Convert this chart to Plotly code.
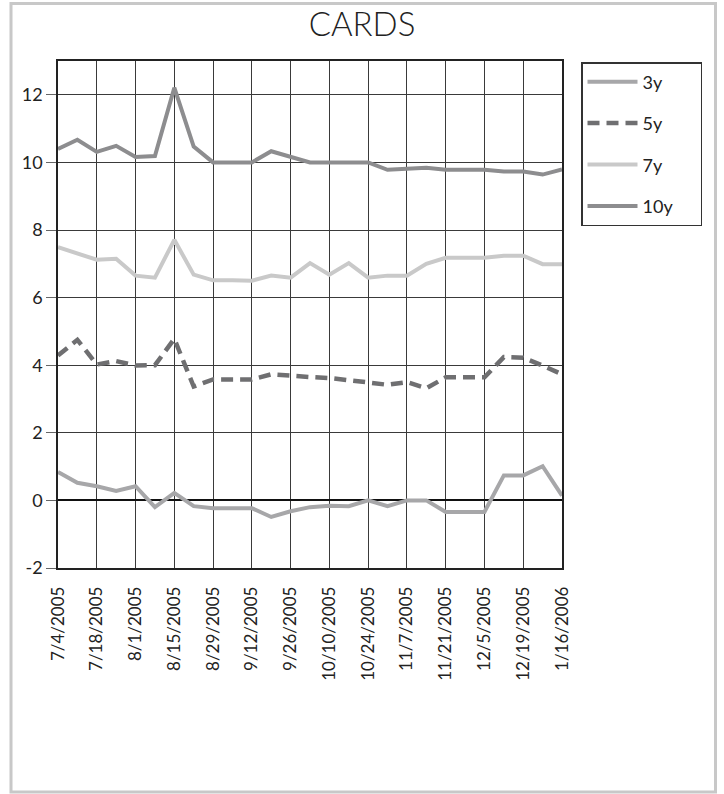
import plotly.graph_objects as go

dates = ["7/4/2005", "7/11/2005", "7/18/2005", "7/25/2005", "8/1/2005", "8/8/2005",
         "8/15/2005", "8/22/2005", "8/29/2005", "9/5/2005", "9/12/2005", "9/19/2005",
         "9/26/2005", "10/3/2005", "10/10/2005", "10/17/2005", "10/24/2005", "10/31/2005",
         "11/7/2005", "11/14/2005", "11/21/2005", "11/28/2005", "12/5/2005", "12/12/2005",
         "12/19/2005", "1/2/2006", "1/16/2006"]

y3 = [0.84, 0.52, 0.42, 0.28, 0.42, -0.20, 0.22, -0.17, -0.23, -0.23, -0.23, -0.49,
      -0.32, -0.20, -0.16, -0.17, 0.0, -0.17, 0.0, 0.0, -0.34, -0.34, -0.34, 0.74,
      0.74, 1.01, 0.14]
y5 = [4.29, 4.75, 4.02, 4.12, 3.99, 4.00, 4.78, 3.37, 3.58, 3.58, 3.58, 3.73,
      3.68, 3.65, 3.62, 3.57, 3.49, 3.42, 3.50, 3.32, 3.64, 3.64, 3.64, 4.24,
      4.22, 3.99, 3.73]
y7 = [7.49, 7.32, 7.12, 7.15, 6.65, 6.59, 7.71, 6.68, 6.51, 6.51, 6.50, 6.65,
      6.59, 7.02, 6.68, 7.02, 6.59, 6.65, 6.65, 7.00, 7.18, 7.18, 7.18, 7.24,
      7.24, 6.99, 6.99]
y10 = [10.40, 10.67, 10.31, 10.49, 10.16, 10.19, 12.21, 10.47, 10.0, 10.0, 10.0, 10.33,
       10.15, 10.0, 10.0, 10.0, 10.0, 9.78, 9.81, 9.84, 9.78, 9.78, 9.78, 9.73,
       9.73, 9.64, 9.79]

tick_labels = dates[0:25:2] + [dates[-1]]
y_ticks = [-2, 0, 2, 4, 6, 8, 10, 12]
y_tick_text = ["-2", "0", "2", "4", "6", "8", "10", "12"]

series = [
    ("3y", y3, "#a7a7a9", None),
    ("5y", y5, "#6f6f71", "12px,7px"),
    ("7y", y7, "#c9c9c9", None),
    ("10y", y10, "#8d8d8f", None),
]

FONT = "Lato, 'Open Sans', sans-serif"
PAD = "\u00a0" * 5

fig = go.Figure()
for i, (name, ys, color, dash) in enumerate(series):
    fig.add_trace(go.Scatter(
        x=dates, y=ys, name=name + PAD, mode="lines",
        line=dict(color=color, width=4.5 if dash else 4, dash=dash),
        legendgroup=f"g{i}",
    ))

W, H = 724, 794
L, R, T, B = 58, 162, 61, 226
pw, ph = W - L - R, H - T - B


def px2paper_x(px):
    return (px - L) / pw


def px2paper_y(py):
    return (H - B - py) / ph


fig.add_shape(type="rect", xref="paper", yref="paper",
              x0=px2paper_x(11), x1=px2paper_x(715.5),
              y0=px2paper_y(792), y1=px2paper_y(3.5),
              line=dict(color="#c8c8c8", width=3), layer="below")

fig.update_layout(
    width=W, height=H,
    margin=dict(l=L, r=R, t=T, b=B, autoexpand=False),
    paper_bgcolor="white", plot_bgcolor="white",
    font=dict(family=FONT, size=17, color="#222222"),
    title=dict(text="CARDS", x=0.5, xref="container", xanchor="center",
               y=1 - 24 / H, yref="container", yanchor="middle",
               font=dict(family=FONT, size=33, color="#222222", weight=300)),
    showlegend=True,
    legend=dict(x=px2paper_x(581), y=px2paper_y(62), xanchor="left", yanchor="top",
                bordercolor="#333333", borderwidth=1.5, bgcolor="white",
                font=dict(family=FONT, size=18, color="#222222"),
                tracegroupgap=15, itemwidth=50),
)

fig.update_xaxes(
    type="category", range=[0, len(dates) - 1],
    tickvals=tick_labels, ticktext=tick_labels, tickangle=-90,
    showgrid=True, gridcolor="#3a3a3a", gridwidth=1,
    showline=True, linecolor="#222222", linewidth=1.5, mirror=True,
    ticks="", ticklabelstandoff=10,
    tickfont=dict(family=FONT, size=17, color="#222222"),
)
fig.update_yaxes(
    range=[-2, 13], tickvals=y_ticks, ticktext=y_tick_text,
    showgrid=True, gridcolor="#3a3a3a", gridwidth=1,
    zeroline=True, zerolinecolor="#111111", zerolinewidth=1.5,
    showline=True, linecolor="#222222", linewidth=1.5, mirror=True,
    ticks="outside", ticklen=10, tickcolor="#666666", tickwidth=1,
    tickfont=dict(family=FONT, size=18, color="#222222"),
)

fig.write_html("out.html", config={"displayModeBar": False},
               post_script="document.body.style.margin='0';")
